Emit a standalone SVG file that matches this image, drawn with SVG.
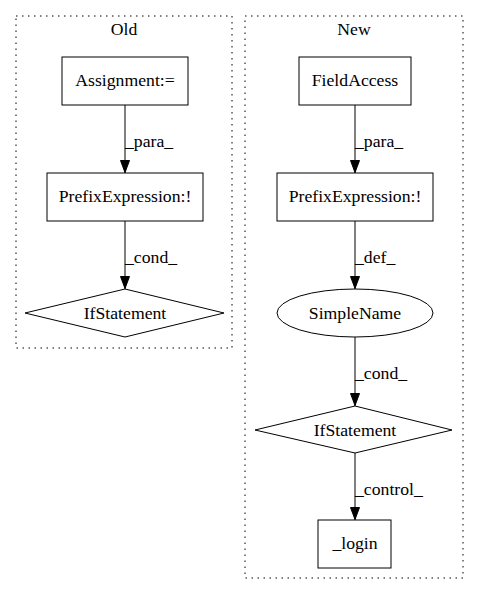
<svg xmlns="http://www.w3.org/2000/svg" width="480" height="596" viewBox="0 0 480 596" font-family="'Liberation Serif', 'Times New Roman', serif" font-size="17.7">
<defs>
<marker id="ah" markerWidth="13" markerHeight="10" refX="13" refY="5" orient="auto" markerUnits="userSpaceOnUse">
<polygon points="0.5,0.5 12.5,5 0.5,9.5" fill="#000" stroke="#000"/>
</marker>
<style>
.n{text-anchor:middle}
.s{fill:#fff;stroke:#000;stroke-width:1}
.c{fill:none;stroke:#000;stroke-width:1;stroke-dasharray:1.5,4.5}
.e{stroke:#000;stroke-width:1;fill:none}
</style>
</defs>
<rect width="480" height="596" fill="#fff"/>
<g id="cluster_old">
<rect class="c" x="16" y="16" width="216" height="332"/>
<text class="n" x="124" y="35">Old</text>
</g>
<g id="cluster_new">
<rect class="c" x="245" y="16" width="218" height="562"/>
<text class="n" x="354" y="35">New</text>
</g>
<g id="old_assignment">
<rect class="s" x="62" y="57" width="126" height="48"/>
<text class="n" x="125" y="86">Assignment:=</text>
</g>
<g id="old_prefix">
<rect class="s" x="47" y="173" width="156" height="48"/>
<text class="n" x="125" y="202">PrefixExpression:!</text>
</g>
<g id="old_if">
<polygon class="s" points="125,289 224,313 125,337 25,313"/>
<text class="n" x="125" y="319">IfStatement</text>
</g>
<g id="new_field">
<rect class="s" x="299" y="57" width="112" height="48"/>
<text class="n" x="355" y="86">FieldAccess</text>
</g>
<g id="new_prefix">
<rect class="s" x="277" y="173" width="156" height="48"/>
<text class="n" x="355" y="202">PrefixExpression:!</text>
</g>
<g id="new_simplename">
<ellipse class="s" cx="355" cy="313" rx="78" ry="24"/>
<text class="n" x="355" y="319">SimpleName</text>
</g>
<g id="new_if">
<polygon class="s" points="355,406 452,430 355,453 255,430"/>
<text class="n" x="355" y="436">IfStatement</text>
</g>
<g id="new_login">
<rect class="s" x="318" y="520" width="73" height="48"/>
<text class="n" x="355" y="549">_login</text>
</g>
<g id="connectors">
<line class="e" x1="125" y1="105" x2="125" y2="173" marker-end="url(#ah)"/>
<text x="125" y="147">_para_</text>
<line class="e" x1="125" y1="221" x2="125" y2="289" marker-end="url(#ah)"/>
<text x="125" y="263">_cond_</text>
<line class="e" x1="355" y1="105" x2="355" y2="173" marker-end="url(#ah)"/>
<text x="355" y="147">_para_</text>
<line class="e" x1="355" y1="221" x2="355" y2="289" marker-end="url(#ah)"/>
<text x="355" y="263">_def_</text>
<line class="e" x1="355" y1="337" x2="355" y2="406" marker-end="url(#ah)"/>
<text x="355" y="379">_cond_</text>
<line class="e" x1="355" y1="453" x2="355" y2="520" marker-end="url(#ah)"/>
<text x="355" y="495">_control_</text>
</g>
</svg>
